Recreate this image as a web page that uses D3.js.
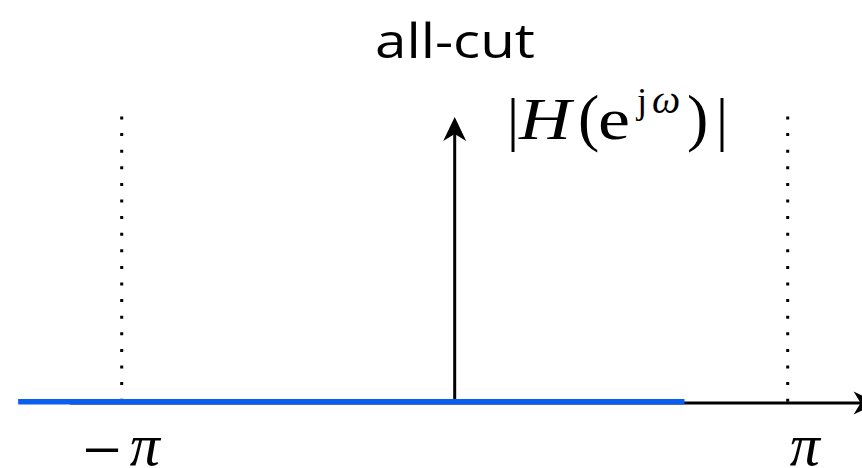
<!DOCTYPE html>
<html>
<head>
<meta charset="utf-8">
<script src="https://cdn.jsdelivr.net/npm/d3@7"></script>
<style>
  html, body { margin: 0; padding: 0; background: #fff; }
  svg { display: block; }
</style>
</head>
<body>
<div id="chart-area"></div>
<script>
// values (omega in multiples of pi)
var title = "all-cut";
var responseOmega = [-1.311, 0.69];   // blue |H| line, start / end
var responseMag = [0, 0];              // all-cut: zero everywhere
var axisOmega = [-1.155, 1.27];        // black omega axis, start / arrow tip
var markOmega = [-1, 1];               // dotted lines at -pi, pi
var markLabels = ["\u2212\u03c0", "\u03c0"];
var magTop = 1;                        // top of the |H| axis arrow

var width = 862, height = 468;
var serif = "'Liberation Serif', 'DejaVu Serif', serif";

var svg = d3.select("#chart-area").append("svg")
    .attr("width", width)
    .attr("height", height);

// scales
var x = d3.scaleLinear()
    .domain([-1, 1])
    .range([121.7, 787.7]);

var y = d3.scaleLinear()
    .domain([0, 1])
    .range([403, 117]);

// dotted lines at -pi, pi
svg.selectAll("line.mark")
    .data(markOmega)
    .enter()
    .append("line")
    .attr("class", "mark")
    .attr("x1", d => x(d))
    .attr("x2", d => x(d))
    .attr("y1", y(magTop) - 0.5)
    .attr("y2", y(0))
    .attr("stroke", "#000")
    .attr("stroke-width", 3)
    .attr("stroke-dasharray", "3 13.6");

// arrow head helper (stealth-like, concave back)
function arrowHead(tx, ty, angle) {
    var len = 24, half = 11.5, back = 7;
    var p = [[0, 0], [-len, -half], [-len + back, 0], [-len, half]];
    var c = Math.cos(angle), s = Math.sin(angle);
    return "M" + p.map(q => [tx + q[0] * c - q[1] * s, ty + q[0] * s + q[1] * c].join(",")).join("L") + "Z";
}

// omega axis
svg.append("line")
    .attr("x1", x(axisOmega[0]))
    .attr("x2", x(axisOmega[1]) - 12)
    .attr("y1", y(0))
    .attr("y2", y(0))
    .attr("stroke", "#000")
    .attr("stroke-width", 3);

svg.append("path")
    .attr("d", arrowHead(x(axisOmega[1]), y(0), 0))
    .attr("fill", "#000");

// magnitude axis
svg.append("line")
    .attr("x1", x(0))
    .attr("x2", x(0))
    .attr("y1", y(0))
    .attr("y2", y(magTop) + 12)
    .attr("stroke", "#000")
    .attr("stroke-width", 3);

svg.append("path")
    .attr("d", arrowHead(x(0), y(magTop), -Math.PI / 2))
    .attr("fill", "#000");

// blue response line
var line = d3.line()
    .x(d => x(d[0]))
    .y(d => y(d[1]) - 1.2);

svg.append("path")
    .datum(d3.zip(responseOmega, responseMag))
    .attr("d", line)
    .attr("fill", "none")
    .attr("stroke", "#0a5ff0")
    .attr("stroke-width", 5.5);

// tick labels: minus sign and italic pi, placed around the tick
svg.selectAll("text.tick")
    .data(markOmega)
    .enter()
    .append("text")
    .attr("class", "tick")
    .attr("y", 465)
    .attr("font-family", serif)
    .each(function (d, i) {
        var t = d3.select(this);
        var s = markLabels[i];
        if (s.length > 1) {
            t.append("tspan").attr("x", x(d) - 39).attr("dy", 8)
                .attr("font-size", "69px").text(s[0]);
            t.append("tspan").attr("x", x(d) + 8).attr("dy", -8).attr("font-size", "60px")
                .attr("font-style", "italic").text(s[1]);
        } else {
            t.append("tspan").attr("x", x(d) + 2).attr("font-size", "60px")
                .attr("font-style", "italic").text(s);
        }
    });

// |H(e^{jw})| label, glyph by glyph
var lab = svg.append("text")
    .attr("y", 139)
    .attr("font-family", serif)
    .attr("font-size", "60px");
lab.append("tspan").attr("x", 507).text("|");
lab.append("tspan").attr("x", 519).attr("font-style", "italic")
    .attr("textLength", 52).attr("lengthAdjust", "spacingAndGlyphs").text("H");
lab.append("tspan").attr("x", 578).attr("font-size", "64px").text("(");
lab.append("tspan").attr("x", 598).attr("textLength", 32).attr("lengthAdjust", "spacingAndGlyphs").text("e");
lab.append("tspan").attr("x", 637).attr("font-size", "36px").attr("dy", -26).text("j");
lab.append("tspan").attr("x", 652).attr("font-size", "40px").attr("font-style", "italic").text("\u03c9");
lab.append("tspan").attr("x", 687).attr("font-size", "64px").attr("dy", 26).text(")");
lab.append("tspan").attr("x", 716).text("|");

// title
svg.append("text")
    .attr("x", 375)
    .attr("y", 58)
    .attr("font-family", "'Open Sans', sans-serif")
    .attr("font-size", "48px")
    .attr("textLength", 160)
    .attr("lengthAdjust", "spacingAndGlyphs")
    .text(title);
</script>
</body>
</html>
